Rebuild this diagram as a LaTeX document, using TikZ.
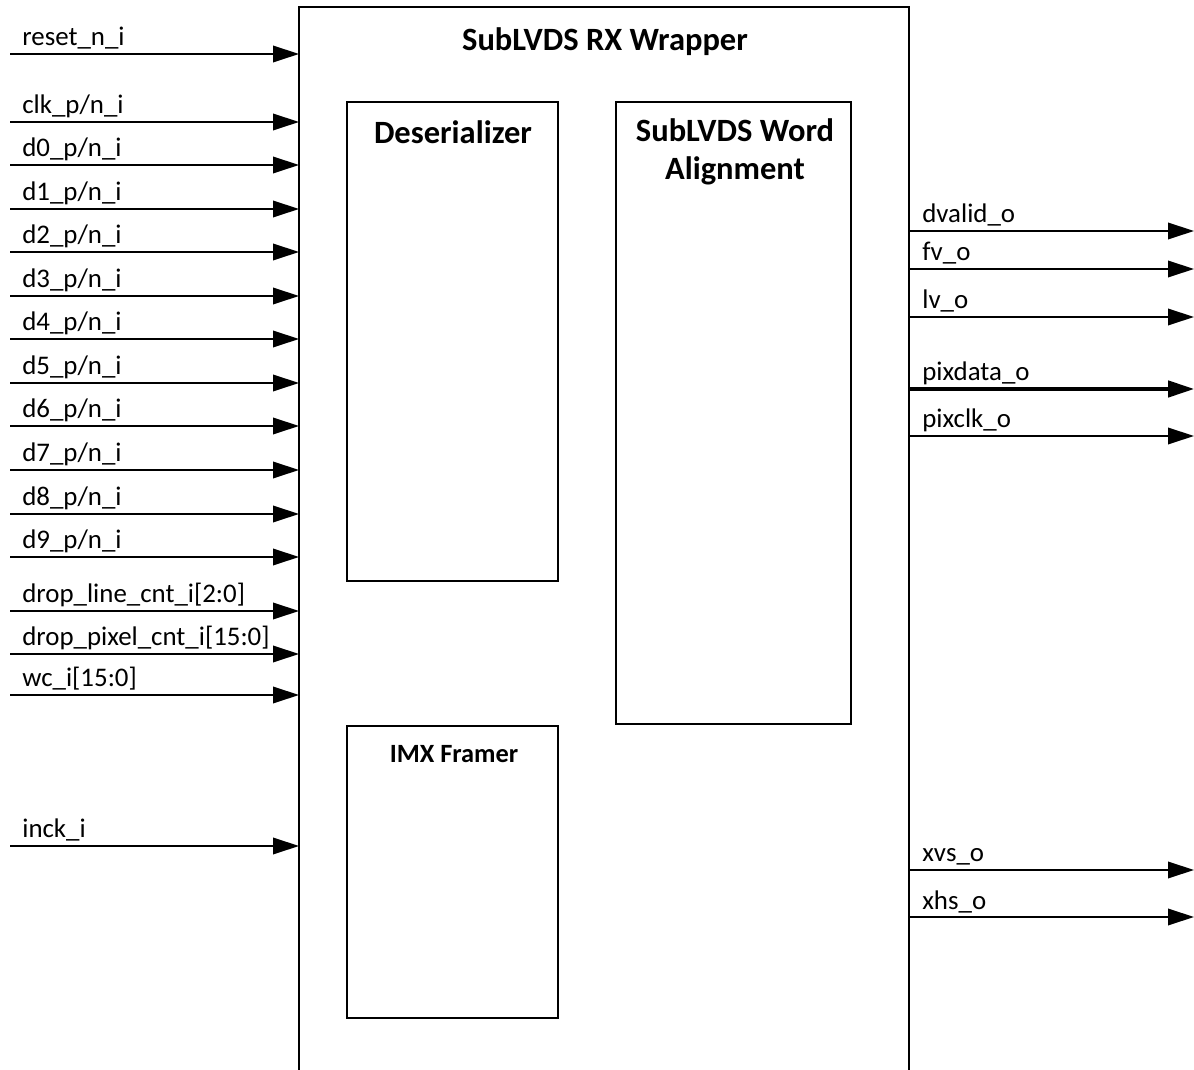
\documentclass[tikz,border=0pt]{standalone}
\usepackage{fontspec}
\setmainfont{Carlito}
\usetikzlibrary{arrows.meta}

\tikzset{
  blk/.style={draw, line width=1.1pt, inner sep=0pt, outer sep=0pt, anchor=north west},
  ttl/.style={font=\fontsize{18.5}{21.5}\selectfont\bfseries, align=center, inner sep=0pt},
  subttl/.style={font=\fontsize{15}{18}\selectfont\bfseries, inner sep=0pt},
  lbl/.style={font=\fontsize{15.3}{18}\selectfont, inner sep=0pt, anchor=base west},
  sig/.style={line width=1.1pt, -{Triangle[length=5.2mm, width=3.3mm]}},
  bus/.style={sig, line width=1.8pt}
}

\begin{document}
\begin{tikzpicture}[x=0.02cm, y=-0.02cm]
    \useasboundingbox (0,0) rectangle (1194,1070);

    % Wrapper and its blocks
    \node[blk, minimum width=12.2cm, minimum height=21.66cm] (wrap) at (299,7) {};
    \node[ttl] (wraptitle) at (605,42) {SubLVDS RX Wrapper};

    \node[blk, minimum width=4.22cm, minimum height=9.58cm] (deser) at (347,102) {};
    \node[ttl] (desertitle) at (453,132) {Deserializer};

    \node[blk, minimum width=4.7cm, minimum height=12.44cm] (align) at (616,102) {};
    \node[ttl] (aligntitle) at (735,152) {SubLVDS Word\\Alignment};

    \node[blk, minimum width=4.22cm, minimum height=5.84cm] (framer) at (347,726) {};
    \node[subttl] (framertitle) at (454,754) {IMX Framer};

    % Inputs
    \foreach \y/\txt [count=\i] in {54/{reset\_n\_i}, 122/{clk\_p/n\_i},
        165/{d0\_p/n\_i}, 209/{d1\_p/n\_i}, 252/{d2\_p/n\_i}, 296/{d3\_p/n\_i},
        339/{d4\_p/n\_i}, 383/{d5\_p/n\_i}, 426/{d6\_p/n\_i}, 470/{d7\_p/n\_i},
        514/{d8\_p/n\_i}, 557/{d9\_p/n\_i}, 611/{drop\_line\_cnt\_i[2:0]},
        654/{drop\_pixel\_cnt\_i[15:0]}, 695/{wc\_i[15:0]}, 846/{inck\_i}} {
        \coordinate (in\i) at (10,\y);
        \draw[sig] (in\i) -- (in\i -| wrap.west);
        \node[lbl] (inlbl\i) at (22,\y-8) {\txt};
    }

    % Outputs
    \foreach \y/\txt [count=\i] in {231/{dvalid\_o}, 269/{fv\_o}, 317/{lv\_o},
        436/{pixclk\_o}, 870/{xvs\_o}, 917/{xhs\_o}} {
        \coordinate (out\i) at (1194,\y);
        \draw[sig] (out\i -| wrap.east) -- (out\i);
        \node[lbl] (outlbl\i) at (922,\y-8) {\txt};
    }
    \coordinate (outpix) at (1194,389);
    \draw[bus] (outpix -| wrap.east) -- (outpix);
    \node[lbl] (outlblpix) at (922,381) {pixdata\_o};
\end{tikzpicture}
\end{document}
